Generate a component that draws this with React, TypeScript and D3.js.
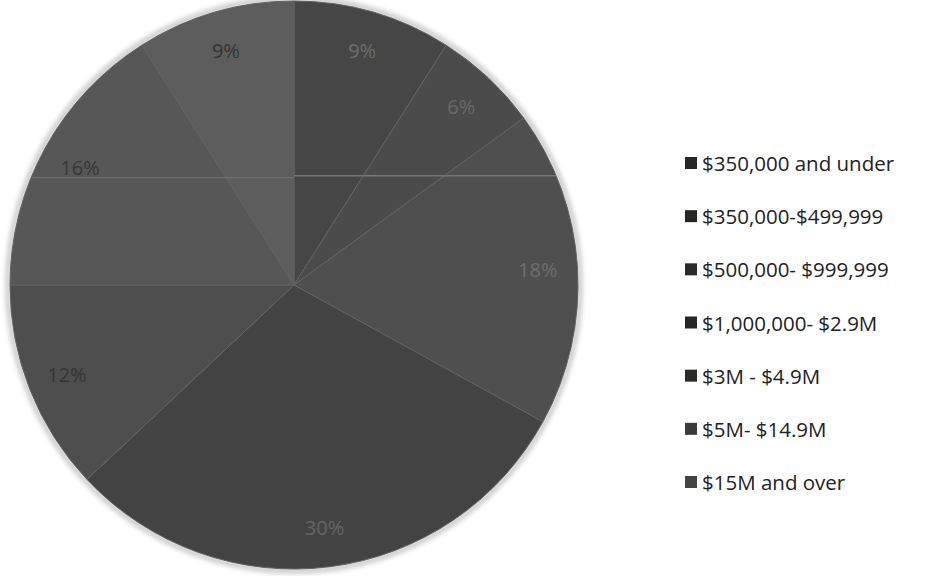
import React from 'react';
import * as d3 from 'd3';

// price bands, clockwise from 12 o'clock
const categories = [
  '$350,000 and under',
  '$350,000-$499,999',
  '$500,000- $999,999',
  '$1,000,000- $2.9M',
  '$3M - $4.9M',
  '$5M- $14.9M',
  '$15M and over',
];
const shares = [9, 6, 18, 30, 12, 16, 9];
const sliceColors = ['#464646', '#4b4b4b', '#4f4f4f', '#434343', '#4e4e4e', '#575757', '#5d5d5d'];
const labelColors = ['#6c6c6c', '#686868', '#6e6e6e', '#666666', '#353535', '#373737', '#353535'];
const legendColors = ['#262626', '#262626', '#2a2a2a', '#262626', '#2a2a2a', '#3a3a3a', '#444444'];

const width = 928;
const height = 576;

const App = () => {
  const cx = 294;
  const cy = 285;
  const radius = 284;

  const pie = d3
    .pie<number>()
    .sort(null)
    .value((d) => d);
  const arcs = pie(shares);

  const arc = d3.arc<d3.PieArcDatum<number>>().innerRadius(0).outerRadius(radius);
  const labelArc = d3
    .arc<d3.PieArcDatum<number>>()
    .innerRadius(radius * 0.86)
    .outerRadius(radius * 0.86);

  // legend rows
  const legendY = d3
    .scalePoint<string>()
    .domain(categories)
    .range([163, 482]);

  // scan artefact: faint horizontal rule across the upper half
  const ruleY = cy - radius * 0.385;
  const ruleHalf = Math.sqrt(radius * radius - (cy - ruleY) ** 2);

  return (
    <svg
      width={width}
      height={height}
      style={{ position: 'absolute', left: 0, top: 0, background: '#fff' }}
      fontFamily="'Open Sans', 'Noto Sans', sans-serif"
    >
      <defs>
        <filter id='fuzz' x='-5%' y='-5%' width='110%' height='110%'>
          <feGaussianBlur stdDeviation='2.5' />
        </filter>
      </defs>

      {/* fuzzy halo of the scanned edge */}
      <circle cx={cx} cy={cy} r={radius + 2} fill='none' stroke='#c4c4c4' strokeWidth={5} filter='url(#fuzz)' />

      <g transform={`translate(${cx},${cy})`}>
        {arcs.map((d, i) => (
          <path key={i} d={arc(d) || ''} fill={sliceColors[i]} stroke='#626262' strokeWidth={1} />
        ))}
        <line x1={0} x2={ruleHalf} y1={ruleY - cy} y2={ruleY - cy} stroke='#767676' strokeWidth={1.5} />
        <line x1={-ruleHalf} x2={0} y1={ruleY - cy + 2} y2={ruleY - cy + 2} stroke='#6e6e6e' strokeWidth={1.2} />
        {arcs.map((d, i) => {
          const [lx, ly] = labelArc.centroid(d);
          return (
            <text
              key={i}
              x={lx}
              y={ly}
              textAnchor='middle'
              dominantBaseline='central'
              fontSize={20}
              fill={labelColors[i]}
            >
              {shares[i]}%
            </text>
          );
        })}
      </g>

      {categories.map((c, i) => {
        const y = legendY(c) || 0;
        return (
          <g key={c}>
            <rect x={685} y={y - 6} width={12} height={12} fill={legendColors[i]} />
            <text x={702} y={y} dominantBaseline='central' fontSize={20.5} fill='#222'>
              {c}
            </text>
          </g>
        );
      })}
    </svg>
  );
};

export default App;
